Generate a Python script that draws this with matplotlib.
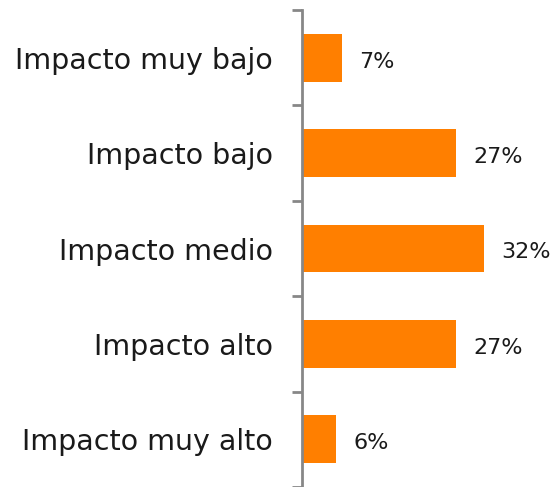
import matplotlib
matplotlib.use("Agg")
import matplotlib.pyplot as plt
from matplotlib.ticker import FixedLocator

categories = ["Impacto muy bajo", "Impacto bajo", "Impacto medio",
              "Impacto alto", "Impacto muy alto"]
values = [7, 27, 32, 27, 6]

plt.rcParams['font.family'] = ['DejaVu Sans']

fig = plt.figure(figsize=(5.54, 4.87), dpi=100)
ax = fig.add_axes([302 / 554, 0.0, 252 / 554, 477 / 487])

pos = list(range(len(categories)))
ax.barh(pos, values, height=0.5, color="#FF7F00")
ax.set_ylim(len(categories) - 0.5, -0.5)
ax.set_xlim(0, 44.3)

for y, v in zip(pos, values):
    ax.text(v + 3.1, y + 0.04, f"{v}%", va="center", ha="left", fontsize=16, color="#1a1a1a")

ax.set_yticks(pos)
ax.set_yticklabels(categories, fontsize=20.5, color="#1a1a1a")
ax.tick_params(axis="y", which="major", length=0, pad=21)
ax.yaxis.set_minor_locator(FixedLocator([p - 0.5 for p in pos] + [len(pos) - 0.5]))
ax.tick_params(axis="y", which="minor", length=7, width=2, color="#878787")
ax.set_xticks([])

for side in ["top", "right", "bottom"]:
    ax.spines[side].set_visible(False)
ax.spines["left"].set_color("#878787")
ax.spines["left"].set_linewidth(2)

fig.savefig("out.png", dpi=100)
